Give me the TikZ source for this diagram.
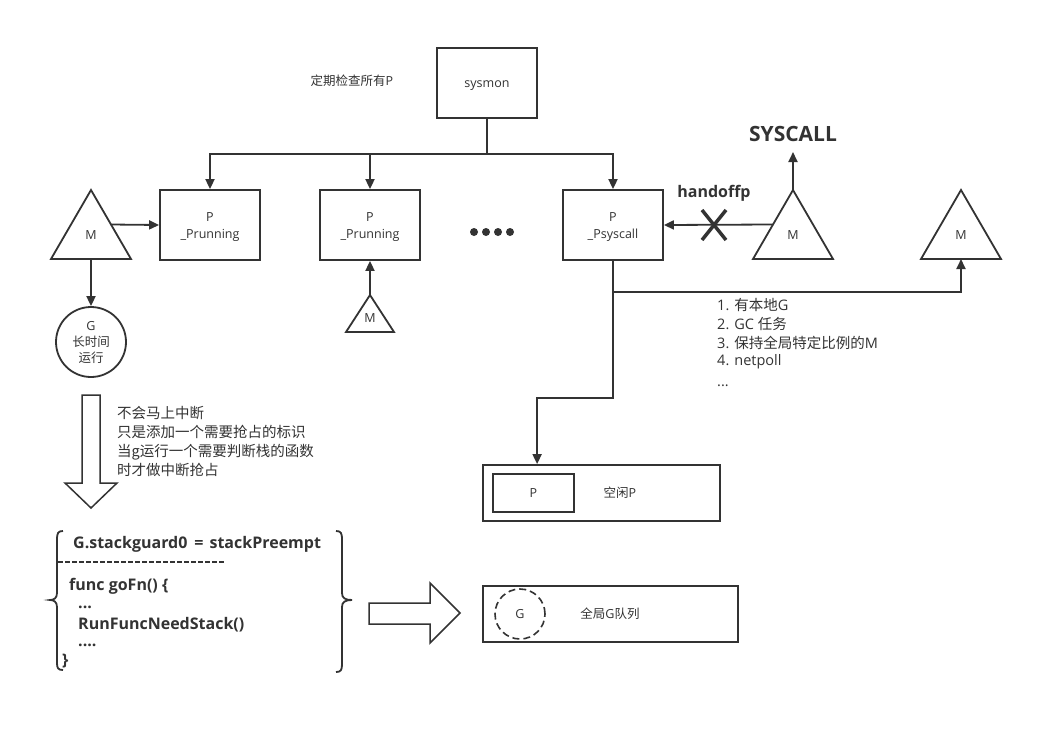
\documentclass[tikz,border=0pt]{standalone}
\usepackage{fontspec}
\setmainfont{Open Sans}
\newfontfamily\zhfont{Noto Sans CJK SC}
\newcommand\zhtxt[1]{{\zhfont #1}}
\newcommand\lowtxt[1]{\raisebox{-2.5pt}[\height][\depth]{#1}}
\usetikzlibrary{arrows.meta,calc}
\definecolor{ink}{HTML}{333333}
\begin{document}
\begin{tikzpicture}[x=1pt,y=-1pt,
  every node/.style={text=ink, inner sep=0pt},
  fs/.style={font=\fontsize{12.5}{17}\selectfont},
  fm/.style={font=\fontsize{14.5}{19}\selectfont},
  fcode/.style={font=\fontsize{16}{20}\selectfont\bfseries},
  box/.style={draw=ink, line width=1.8pt, minimum width=100pt, minimum height=70pt, align=center, fs},
  ln/.style={draw=ink, line width=1.8pt},
  arr/.style={draw=ink, line width=1.8pt, -{Triangle[length=10pt,width=9pt]}},
  tri/.style={draw=ink, line width=1.8pt, line join=miter},
  hollow/.style={draw=ink, line width=1.5pt, line join=miter},
  codeline/.style={fcode, anchor=base west}
]
\fill[white] (0,0) rectangle (1063,734);
\useasboundingbox (0,0) rectangle (1063,734);

% sysmon and P boxes
\node[box] (sys) at (487,83) {\lowtxt{sysmon}};
\node[fs] (chk) at (352,81) {\zhtxt{定期检查所有}P};
\node[box] (p1) at (210,225) {\lowtxt{P}\\\lowtxt{\_Prunning}};
\node[box] (p2) at (370,225) {\lowtxt{P}\\\lowtxt{\_Prunning}};
\node[box] (pS) at (613,225) {\lowtxt{P}\\\lowtxt{\_Psyscall}};

\draw[arr] (sys.south) -- ++(0,35) -| (p1.north);
\draw[arr] (sys.south) -- ++(0,35) -| (p2.north);
\draw[arr] (sys.south) -- ++(0,35) -| (pS.north);

% dots
\foreach \dx in {474,486,498,510} \fill[ink] (\dx,232) circle (4pt);

% left M and G
\draw[tri] (91,190) coordinate (mLa) -- (131,259) coordinate (mLr) -- (51,259) coordinate (mLl) -- cycle;
\node[fs] (mL) at (91,235) {M};
\node[draw=ink, line width=1.8pt, circle, minimum size=70pt, align=center, font=\fontsize{12.5}{16}\selectfont] (gL) at (91,342) {G\\\zhtxt{长时间}\\\zhtxt{运行}};
\draw[arr] ($(mLa)!0.5!(mLr)$) -- (p1.west);
\draw[arr] ($(mLl)!0.5!(mLr)$) -- (gL.north);

% small M under p2
\draw[tri] (370,295) coordinate (mBa) -- (394,332) coordinate (mBr) -- (346,332) coordinate (mBl) -- cycle;
\node[fs] (mB) at (370,318) {M};
\draw[arr] (mBa) -- (p2.south);

% syscall M
\draw[tri] (793,190) coordinate (mSa) -- (833,259) coordinate (mSr) -- (753,259) coordinate (mSl) -- cycle;
\node[fs] (mS) at (793,235) {M};
\node[font=\fontsize{21}{24}\selectfont\bfseries] (sysc) at (793,134) {SYSCALL};
\coordinate (scTip) at (793,152);
\draw[arr] (mSa) -- (scTip);
\draw[arr] ($(mSa)!0.5!(mSl)$) -- (pS.east);
\node[font=\fontsize{16}{20}\selectfont\bfseries] (hand) at (714,193) {handoffp};
\draw[ink, line width=3.5pt] (702,210) -- (726,240) (702,240) -- (726,210);

% right M
\draw[tri] (961,190) coordinate (mRa) -- (1001,259) coordinate (mRr) -- (921,259) coordinate (mRl) -- cycle;
\node[fs] (mR) at (961,235) {M};
\coordinate (mRb) at ($(mRl)!0.5!(mRr)$);
\draw[arr] (pS.south) -- ++(0,31) -| (mRb);

% list
\node[fm, anchor=west] (l1) at (717,305) {1. \zhtxt{有本地}G};
\node[fm, anchor=west] (l2) at (717,324) {2. GC \zhtxt{任务}};
\node[fm, anchor=west] (l3) at (717,343) {3. \zhtxt{保持全局特定比例的}M};
\node[fm, anchor=west] (l4) at (717,362) {4. netpoll};
\node[fm, anchor=base west] (l5) at (717,386) {...};

% idle P
\node[draw=ink, line width=1.8pt, minimum width=237pt, minimum height=56pt] (idle) at (601.5,493) {};
\node[draw=ink, line width=1.8pt, minimum width=81pt, minimum height=38pt, fs] (ip) at (533.5,493) {P};
\node[fs] (idleT) at (620,493) {\zhtxt{空闲}P};
\coordinate (idleIn) at ($(idle.north west)+(55,0)$);
\draw[arr] (pS.south) -- ++(0,137) -| (idleIn);

% global G queue
\node[draw=ink, line width=1.8pt, minimum width=255pt, minimum height=56pt] (gq) at (610.5,614) {};
\node[draw=ink, line width=1.6pt, dash pattern=on 7pt off 4pt, circle, minimum size=50pt, fs] (gG) at (520,614) {G};
\node[fs] (gqT) at (610,614) {\zhtxt{全局}G\zhtxt{队列}};

% down hollow arrow
\draw[hollow] (82,395) -- (100,395) -- (100,483) -- (117,483) -- (91,508) -- (65,483) -- (82,483) -- cycle;
\node[fm, anchor=west] (t1) at (117,413) {\zhtxt{不会马上中断}};
\node[fm, anchor=west] (t2) at (117,432) {\zhtxt{只是添加一个需要抢占的标识}};
\node[fm, anchor=west] (t3) at (117,452) {\zhtxt{当g运行一个需要判断栈的函数}};
\node[fm, anchor=west] (t4) at (117,470) {\zhtxt{时才做中断抢占}};

% right hollow arrow
\draw[hollow] (369,603) -- (430,603) -- (430,583) -- (460,613) -- (430,643) -- (430,624) -- (369,624) -- cycle;

% code block
\node[codeline] (c1) at (73,548) {G.stackguard0\hspace{7pt}=\hspace{6pt}stackPreempt};
\draw[ink, line width=1.6pt, dash pattern=on 5pt off 2pt] (58,562) -- (225,562);
\node[codeline] (c2) at (69,590) {func goFn() \{};
\node[codeline] (c3) at (78,608) {...};
\node[codeline] (c4) at (78,629) {RunFuncNeedStack()};
\node[codeline] (c5) at (78,646) {....};
\node[codeline] (c6) at (62,665) {\}};

% braces
\draw[ln] (63,531) .. controls (58,531) and (57,533) .. (57,540) -- (57,593) .. controls (57,598) and (54,600) .. (50,600) .. controls (54,600) and (57,602) .. (57,607) -- (57,663) .. controls (57,668) and (58,670) .. (63,670);
\draw[ln] (336,531) .. controls (341,531) and (342,533) .. (342,540) -- (342,593) .. controls (342,598) and (345,600) .. (352,600) .. controls (345,600) and (342,602) .. (342,607) -- (342,664) .. controls (342,670) and (341,672) .. (336,672);
\end{tikzpicture}
\end{document}
